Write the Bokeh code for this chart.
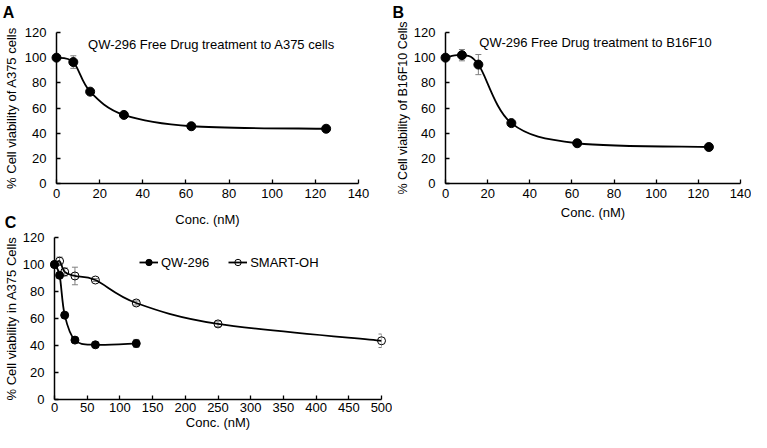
from bokeh.plotting import figure
from bokeh.models import (Range1d, FixedTicker, Label, Legend, LegendItem, Whisker,
                          TeeHead, ColumnDataSource)
from bokeh.core.properties import value
from bokeh.layouts import column, row
from bokeh.embed import file_html
from bokeh.resources import INLINE

FONT = "Liberation Sans"
GRAY = "#808080"

# ---------------- data ----------------
conc_a = [0, 7.8, 15.6, 31.25, 62.5, 125]
viab_a = [100, 96.5, 73, 54.5, 45.5, 43.5]
err_a = [0, 5, 1.5, 2, 1, 1]

conc_b = [0, 7.8, 15.6, 31.25, 62.5, 125]
viab_b = [100, 102, 94.5, 48, 32, 29]
err_b = [0, 4.5, 8, 1, 1, 1]

conc_qw = [0, 7.8, 15.6, 31.25, 62.5, 125]
viab_qw = [100, 92, 62.5, 44, 40.5, 41.5]
err_qw = [1, 1, 1, 1.5, 1, 3]

conc_sm = [0, 7.8, 15.6, 31.25, 62.5, 125, 250, 500]
viab_sm = [100, 102.5, 94.5, 91.5, 88.5, 71.5, 56, 43.5]
err_sm = [0, 3, 3, 6.5, 1, 1.5, 2, 5]

xticks_ab = [0, 20, 40, 60, 80, 100, 120, 140]
xticks_c = [0, 50, 100, 150, 200, 250, 300, 350, 400, 450, 500]
yticks = [0, 20, 40, 60, 80, 100, 120]

title_a = "QW-296 Free Drug treatment to A375 cells"
title_b = "QW-296 Free Drug treatment to B16F10"
ylab_a = "% Cell viability of A375 cells"
ylab_b = "% Cell viability of B16F10 Cells"
ylab_c = "% Cell viability in A375 Cells"
xlab = "Conc. (nM)"


def smooth_segments(xs, ys):
    """Bezier control points (Catmull-Rom style, like a smoothed line)."""
    n = len(xs)
    d = dict(x0=[], y0=[], x1=[], y1=[], cx0=[], cy0=[], cx1=[], cy1=[])
    for i in range(n - 1):
        i0 = max(i - 1, 0)
        i3 = min(i + 2, n - 1)
        d["x0"].append(xs[i]); d["y0"].append(ys[i])
        d["x1"].append(xs[i + 1]); d["y1"].append(ys[i + 1])
        d["cx0"].append(xs[i] + (xs[i + 1] - xs[i0]) / 6)
        d["cy0"].append(ys[i] + (ys[i + 1] - ys[i0]) / 6)
        d["cx1"].append(xs[i + 1] - (xs[i3] - xs[i]) / 6)
        d["cy1"].append(ys[i + 1] - (ys[i3] - ys[i]) / 6)
    return d


class Panel:
    def __init__(self, cx, cy, cw, ch, fl, fr, ft, fb, xmax, xticks, ylabel,
                 tick_sy, lab_sy, tick_sx, lab_sx, ylab_size="13px"):
        self.fl, self.fr, self.ft, self.fb, self.xmax = fl, fr, ft, fb, xmax
        p = figure(width=cw, height=ch, x_range=Range1d(0, xmax),
                   y_range=Range1d(0, 120), output_backend="svg",
                   toolbar_location=None,
                   min_border_left=fl - cx, min_border_right=cx + cw - fr,
                   min_border_top=ft - cy, min_border_bottom=cy + ch - fb)
        p.outline_line_color = None
        p.xgrid.visible = False
        p.ygrid.visible = False
        p.background_fill_color = "white"
        p.border_fill_color = "white"
        p.xaxis.ticker = FixedTicker(ticks=xticks)
        p.yaxis.ticker = FixedTicker(ticks=yticks)
        p.xaxis.axis_label = xlab
        p.yaxis.axis_label = ylabel
        for ax in (p.xaxis[0], p.yaxis[0]):
            ax.axis_line_color = "black"
            ax.axis_line_width = 1.5
            ax.major_tick_in = 4
            ax.major_tick_out = 0
            ax.major_tick_line_color = "black"
            ax.major_tick_line_width = 1.3
            ax.minor_tick_line_color = None
            ax.major_label_text_font = FONT
            ax.major_label_text_font_size = "13px"
            ax.major_label_text_color = "black"
            ax.axis_label_text_font = FONT
            ax.axis_label_text_font_size = "13px"
            ax.axis_label_text_font_style = "normal"
            ax.axis_label_text_color = "black"
        p.yaxis.axis_label_text_font_size = ylab_size
        p.yaxis.major_label_standoff = tick_sy
        p.yaxis.axis_label_standoff = lab_sy
        p.xaxis.major_label_standoff = tick_sx
        p.xaxis.axis_label_standoff = lab_sx
        self.p = p

    # page pixel -> data coordinate (for placing decorative text)
    def dx(self, px):
        return (px - self.fl) * self.xmax / (self.fr - self.fl)

    def dy(self, py):
        return (self.fb - py) * 120 / (self.fb - self.ft)

    def series(self, xs, ys, errs, filled, size):
        p = self.p
        line = p.bezier(source=ColumnDataSource(smooth_segments(xs, ys)),
                        x0="x0", y0="y0", x1="x1", y1="y1",
                        cx0="cx0", cy0="cy0", cx1="cx1", cy1="cy1",
                        line_color="black", line_width=1.8)
        ex = [x for x, e in zip(xs, errs) if e > 0]
        eu = [y + e for y, e in zip(ys, errs) if e > 0]
        el = [y - e for y, e in zip(ys, errs) if e > 0]
        wsrc = ColumnDataSource(dict(x=ex, upper=eu, lower=el))
        p.add_layout(Whisker(source=wsrc, base="x", upper="upper", lower="lower",
                             line_color=GRAY, line_width=1,
                             upper_head=TeeHead(size=6, line_color=GRAY, line_width=1),
                             lower_head=TeeHead(size=6, line_color=GRAY, line_width=1)))
        if filled:
            pts = p.scatter(xs, ys, marker="circle", size=size, fill_color="black",
                            line_color="black", level="overlay")
        else:
            pts = p.scatter(xs, ys, marker="circle", size=size, fill_color=None,
                            line_color="black", line_width=1, level="overlay")
        return line, pts

    def letter(self, text, px, py):
        self.p.text(x=[self.dx(px)], y=[self.dy(py)], text=[text],
                    text_font=value(FONT), text_font_style="bold",
                    text_font_size="16px", text_color="black",
                    text_baseline="alphabetic", text_align="left", level="overlay")

    def title(self, text, px, py):
        self.p.add_layout(Label(x=px - self.fl, y=self.fb - py, x_units="screen",
                                y_units="screen", text=text, text_font=FONT,
                                text_font_size="13px", text_color="black",
                                text_baseline="middle", text_align="center"))


# ---------------- panel A ----------------
A = Panel(8, 8, 387, 231, fl=63, fr=366, ft=40, fb=191, xmax=140,
          xticks=xticks_ab, ylabel=ylab_a, tick_sy=10, lab_sy=3,
          tick_sx=5, lab_sx=11)
A.series(conc_a, viab_a, err_a, True, 9)
A.title(title_a, 218, 52)
A.letter("A", 9, 20)
A.letter("C", 11, 230)

# ---------------- panel B ----------------
B = Panel(395, 8, 364, 231, fl=453, fr=748, ft=40, fb=191, xmax=140,
          xticks=xticks_ab, ylabel=ylab_b, tick_sy=10, lab_sy=1,
          tick_sx=5, lab_sx=4, ylab_size="12.5px")
B.series(conc_b, viab_b, err_b, True, 9)
B.title(title_b, 603, 50)
B.letter("B", 400, 20)

# ---------------- panel C ----------------
C = Panel(8, 239, 392, 201, fl=60, fr=389, ft=245, fb=407, xmax=500,
          xticks=xticks_c, ylabel=ylab_c, tick_sy=10, lab_sy=1,
          tick_sx=3, lab_sx=0)
l_sm, s_sm = C.series(conc_sm, viab_sm, err_sm, False, 8)
l_qw, s_qw = C.series(conc_qw, viab_qw, err_qw, True, 8)
legend = Legend(items=[LegendItem(label="QW-296", renderers=[l_qw, s_qw]),
                       LegendItem(label="SMART-OH", renderers=[l_sm, s_sm])],
                orientation="horizontal", location=(85, 129), padding=0,
                margin=0, spacing=19, glyph_width=19, glyph_height=16,
                label_height=16, label_standoff=3, border_line_color=None,
                background_fill_alpha=0, label_text_font=FONT,
                label_text_font_size="13px", label_text_color="black")
C.p.add_layout(legend)

layout = column(row(A.p, B.p), C.p)
open("out.html", "w").write(file_html(layout, INLINE))
